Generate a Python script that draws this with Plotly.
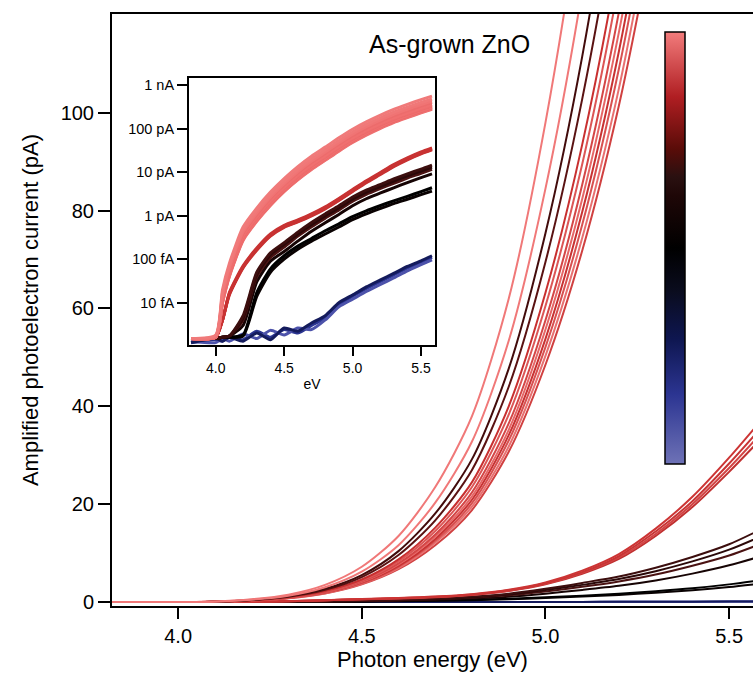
import plotly.graph_objects as go

# ---------------- data (currents in pA) ----------------
energy_eV = [3.82, 4.0, 4.05, 4.1, 4.2, 4.3, 4.4, 4.5, 4.6, 4.7, 4.8, 4.9, 5.0, 5.1, 5.2, 5.3, 5.4, 5.5, 5.58]

steep_01 = [0.0015, 0.0018, 0.020, 0.080, 0.55, 1.50, 3.50, 7.2, 13.5, 23.5, 38.0, 62.0, 98.0, 145.0, 205.0, 280, 365, 470, 565]
steep_02 = [0.0015, 0.0017, 0.017, 0.069, 0.47, 1.29, 3.02, 6.2, 11.6, 20.3, 32.8, 53.4, 84.5, 125.0, 177.0, 241, 315, 405, 487]
steep_03 = [0.0015, 0.0017, 0.015, 0.062, 0.42, 1.15, 2.69, 5.5, 10.4, 18.1, 29.2, 47.7, 75.4, 111.5, 158.0, 215, 281, 362, 435]
steep_04 = [0.0015, 0.0016, 0.014, 0.057, 0.39, 1.06, 2.48, 5.1, 9.6, 16.7, 27.0, 44.0, 69.5, 102.8, 145.0, 199, 259, 333, 401]
steep_05 = [0.0015, 0.0016, 0.013, 0.052, 0.35, 0.97, 2.26, 4.6, 8.7, 15.2, 24.5, 40.0, 63.2, 93.5, 132.0, 181, 235, 303, 365]
steep_06 = [0.0015, 0.0016, 0.012, 0.049, 0.34, 0.93, 2.16, 4.4, 8.3, 14.5, 23.5, 38.3, 60.5, 89.5, 126.5, 173, 225, 290, 349]
steep_07 = [0.0015, 0.0016, 0.012, 0.047, 0.32, 0.88, 2.06, 4.2, 7.9, 13.8, 22.4, 36.5, 57.6, 85.3, 120.6, 165, 215, 276, 332]
steep_08 = [0.0015, 0.0016, 0.011, 0.045, 0.31, 0.85, 1.99, 4.1, 7.7, 13.4, 21.6, 35.2, 55.7, 82.4, 116.5, 159, 207, 267, 321]
steep_09 = [0.0015, 0.0016, 0.011, 0.044, 0.30, 0.82, 1.92, 4.0, 7.4, 12.9, 20.9, 34.1, 53.8, 79.7, 112.6, 154, 200, 258, 310]
steep_10 = [0.0015, 0.0016, 0.011, 0.043, 0.29, 0.80, 1.86, 3.8, 7.2, 12.5, 20.2, 33.0, 52.1, 77.1, 109.0, 149, 194, 250, 301]
steep_11 = [0.0015, 0.0016, 0.010, 0.041, 0.28, 0.77, 1.79, 3.7, 6.9, 12.1, 19.5, 31.8, 50.3, 74.4, 105.0, 144, 187, 241, 290]
steep_12 = [0.0015, 0.0016, 0.010, 0.040, 0.27, 0.74, 1.73, 3.6, 6.7, 11.6, 18.8, 30.7, 48.5, 71.8, 101.5, 139, 181, 233, 280]

red_01 = [0.0015, 0.0016, 0.004, 0.017, 0.070, 0.18, 0.38, 0.60, 0.80, 1.10, 1.60, 2.50, 4.00, 6.40, 9.80, 15.0, 21.5, 29.5, 36.5]
red_02 = [0.0015, 0.0016, 0.004, 0.016, 0.067, 0.17, 0.36, 0.58, 0.77, 1.06, 1.54, 2.40, 3.84, 6.10, 9.40, 14.4, 20.6, 28.3, 35.0]
red_03 = [0.0015, 0.0016, 0.004, 0.016, 0.065, 0.17, 0.35, 0.56, 0.74, 1.02, 1.49, 2.30, 3.70, 5.95, 9.10, 13.9, 20.0, 27.4, 33.9]
red_04 = [0.0015, 0.0016, 0.004, 0.015, 0.063, 0.16, 0.34, 0.54, 0.72, 0.99, 1.44, 2.25, 3.60, 5.76, 8.80, 13.5, 19.4, 26.6, 32.8]

dark_01 = [0.0015, 0.0015, 0.0016, 0.0017, 0.005, 0.050, 0.14, 0.24, 0.42, 0.70, 1.10, 1.70, 2.70, 3.90, 5.20, 7.00, 9.20, 11.8, 14.6]
dark_02 = [0.0015, 0.0015, 0.0016, 0.0017, 0.0045, 0.045, 0.126, 0.22, 0.38, 0.63, 0.99, 1.53, 2.43, 3.50, 4.70, 6.30, 8.30, 10.7, 13.2]
dark_03 = [0.0015, 0.0015, 0.0016, 0.0017, 0.004, 0.040, 0.11, 0.19, 0.34, 0.56, 0.88, 1.36, 2.16, 3.10, 4.20, 5.60, 7.40, 9.50, 11.7]
dark_04 = [0.0015, 0.0015, 0.0016, 0.0017, 0.003, 0.030, 0.09, 0.15, 0.26, 0.44, 0.69, 1.07, 1.70, 2.46, 3.30, 4.40, 5.80, 7.50, 9.2]

black_01 = [0.0015, 0.0015, 0.0016, 0.0016, 0.0018, 0.017, 0.060, 0.12, 0.20, 0.30, 0.45, 0.65, 0.95, 1.30, 1.70, 2.20, 2.80, 3.60, 4.40]
black_02 = [0.0015, 0.0015, 0.0016, 0.0016, 0.0017, 0.014, 0.050, 0.10, 0.17, 0.26, 0.38, 0.55, 0.81, 1.10, 1.45, 1.90, 2.40, 3.05, 3.70]

blue_01 = [0.0012, 0.0014, 0.0013, 0.0017, 0.0014, 0.0022, 0.0016, 0.0024, 0.0020, 0.0030, 0.0045, 0.0090, 0.014, 0.021, 0.030, 0.043, 0.062, 0.085, 0.11]
blue_02 = [0.0013, 0.0012, 0.0015, 0.0013, 0.0019, 0.0015, 0.0023, 0.0018, 0.0026, 0.0024, 0.0040, 0.0080, 0.012, 0.018, 0.026, 0.037, 0.054, 0.075, 0.097]
blue_03 = [0.0012, 0.0015, 0.0013, 0.0016, 0.0013, 0.0020, 0.0014, 0.0026, 0.0022, 0.0034, 0.0050, 0.0100, 0.015, 0.023, 0.033, 0.047, 0.068, 0.092, 0.12]

y_ticks_main = [0, 20, 40, 60, 80, 100]
x_ticks = [4.0, 4.5, 5.0, 5.5]
x_tick_text = ["4.0", "4.5", "5.0", "5.5"]
inset_tick_vals = [1e-14, 1e-13, 1e-12, 1e-11, 1e-10, 1e-9]
inset_tick_text = ["10 fA", "100 fA", "1 pA", "10 pA", "100 pA", "1 nA"]

# ---------------- styles ----------------
series = [
    # (data, main colour, inset colour)
    (blue_01, "#2a3490", "#2a3490"),
    (blue_02, "#4c52aa", "#4c52aa"),
    (blue_03, "#141b5c", "#141b5c"),
    (black_02, "#0a0202", "#0a0202"),
    (black_01, "#000000", "#000000"),
    (dark_04, "#160404", "#160404"),
    (dark_03, "#4a1212", "#4a1212"),
    (dark_02, "#2a0808", "#2a0808"),
    (dark_01, "#3c0e0e", "#3c0e0e"),
    (red_04, "#c03030", "#c83232"),
    (red_03, "#d24444", "#c83232"),
    (red_02, "#c83434", "#c83232"),
    (red_01, "#cc3434", "#c83232"),
    (steep_12, "#d04040", "#ee6c6c"),
    (steep_11, "#e87070", "#f07474"),
    (steep_10, "#d85050", "#ea6868"),
    (steep_09, "#c83232", "#ee6e6e"),
    (steep_08, "#e66666", "#f07272"),
    (steep_07, "#d44646", "#ec6a6a"),
    (steep_06, "#dc5656", "#ee6e6e"),
    (steep_05, "#c83030", "#f07070"),
    (steep_04, "#5a1212", "#ec6c6c"),
    (steep_03, "#420b0b", "#f07474"),
    (steep_02, "#f07878", "#f07878"),
    (steep_01, "#f07878", "#f07a7a"),
]

colorscale = [
    [0.00, "#6e72b6"], [0.16, "#2c3592"], [0.29, "#0e1650"], [0.40, "#0a0c1e"],
    [0.50, "#000000"], [0.62, "#1e0707"], [0.665, "#2a1010"], [0.73, "#5a0c08"],
    [0.85, "#b01e22"], [1.00, "#f27c7c"],
]

FONT = "Liberation Sans, Arial, sans-serif"

fig = go.Figure()

for data, c_main, c_inset in series:
    fig.add_trace(go.Scatter(
        x=energy_eV, y=data, mode="lines",
        line=dict(color=c_main, width=2, shape="spline", smoothing=0.8),
        xaxis="x", yaxis="y", showlegend=False, hoverinfo="skip"))

for data, c_main, c_inset in series:
    fig.add_trace(go.Scatter(
        x=energy_eV, y=[v * 1e-12 for v in data], mode="lines",
        line=dict(color=c_inset, width=3, shape="spline", smoothing=0.6),
        xaxis="x2", yaxis="y2", showlegend=False, hoverinfo="skip"))

# colour bar
fig.add_trace(go.Scatter(
    x=[None], y=[None], mode="markers", showlegend=False, hoverinfo="skip",
    marker=dict(color=[0, 1], cmin=0, cmax=1, colorscale=colorscale, showscale=True,
                colorbar=dict(x=(665 - 112) / 641, xanchor="left", y=(606 - 32) / 592, yanchor="top",
                              lenmode="pixels", len=432, thicknessmode="pixels", thickness=20,
                              xpad=0, ypad=0, outlinewidth=1.5, outlinecolor="#000",
                              showticklabels=False, ticks="")),
    xaxis="x", yaxis="y"))

fig.update_layout(
    width=753, height=682,
    margin=dict(l=112, r=0, t=14, b=76),
    paper_bgcolor="white", plot_bgcolor="white",
    font=dict(family=FONT, color="black"),
    xaxis=dict(domain=[0, 1], range=[3.82, 5.565], tickvals=x_ticks, ticktext=x_tick_text,
               ticks="outside", ticklen=11, tickwidth=1.5, tickcolor="black",
               showline=True, linewidth=2, linecolor="black", mirror=True,
               showgrid=False, zeroline=False, tickfont=dict(size=20),
               title=dict(text="Photon energy (eV)", font=dict(size=22), standoff=6)),
    yaxis=dict(domain=[0, 1], range=[-0.82, 120.2], tickvals=y_ticks_main,
               ticks="outside", ticklen=12, tickwidth=1.5, tickcolor="black",
               showline=True, linewidth=2, linecolor="black", mirror=False,
               showgrid=False, zeroline=False, tickfont=dict(size=20),
               title=dict(text="Amplified photoelectron current (pA)", font=dict(size=22), standoff=16)),
    xaxis2=dict(domain=[(189 - 112) / 641, (435 - 112) / 641], anchor="y2", range=[3.805, 5.602],
                tickvals=x_ticks, ticktext=x_tick_text,
                ticks="outside", ticklen=9, tickwidth=1.5, tickcolor="black",
                showline=True, linewidth=2, linecolor="black", mirror=True,
                showgrid=False, zeroline=False, tickfont=dict(size=14),
                title=dict(text="eV", font=dict(size=14), standoff=4)),
    yaxis2=dict(domain=[(606 - 345) / 592, (606 - 78) / 592], anchor="x2", type="log",
                range=[-14.975, -8.83], tickvals=inset_tick_vals, ticktext=inset_tick_text,
                ticks="outside", ticklen=10, tickwidth=1.5, tickcolor="black",
                showline=True, linewidth=2, linecolor="black", mirror=True,
                showgrid=False, zeroline=False, tickfont=dict(size=14.5)),
    annotations=[dict(text="As-grown ZnO", x=(450 - 112) / 641, y=(606 - 44) / 592,
                      xref="paper", yref="paper", xanchor="center", yanchor="middle",
                      showarrow=False, font=dict(size=25))],
)

fig.write_html("out.html")
